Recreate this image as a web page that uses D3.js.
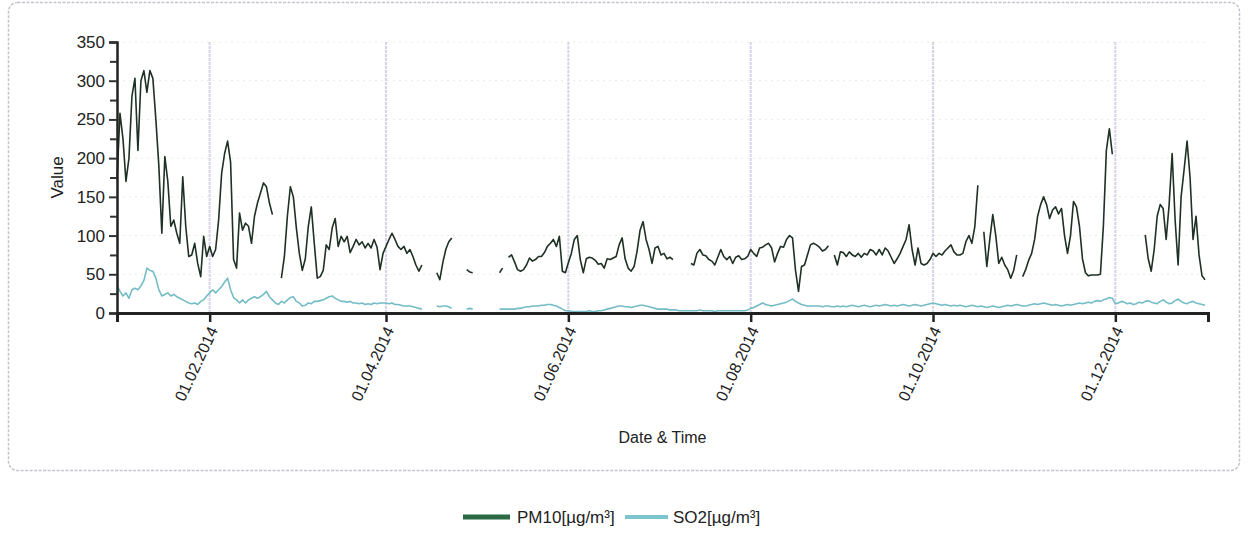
<!DOCTYPE html>
<html><head><meta charset="utf-8">
<script src="https://cdn.jsdelivr.net/npm/d3@7"></script>
<style>
body{margin:0;background:#fff;}
text{font-family:"Liberation Sans",Arial,sans-serif;fill:#222;}
</style>
</head><body>
<svg id="chart" width="1248" height="533"></svg>
<script>
// ---- data (daily values, 2014) ----
const startDate = "2014-01-01";
const endDate = "2015-01-01";
const pm10Jan = [172,258,225,170,200,280,303,210,300,313,285,313,303,250,190,103,202,170,112,120,103,90,176,112,73,75,90,64,47,99,73];
const pm10Feb = [86,73,82,120,180,206,222,195,69,58,129,107,116,112,90,125,142,155,168,163,142,127,null,null,45,73,125,163];
const pm10Mar = [150,110,77,55,70,112,137,90,45,47,55,88,82,110,122,86,99,92,99,78,86,95,88,92,84,90,84,95,85,56,77];
const pm10Apr = [86,95,103,95,86,82,86,77,82,73,62,54,62,null,null,null,null,52,43,65,82,92,97,null,null,null,null,56,53,52];
const pm10May = [null,null,null,null,null,null,null,null,52,58,null,72,75,66,56,54,56,62,71,67,69,73,73,78,86,90,95,86,99,54,52];
const pm10Jun = [65,77,95,100,69,52,70,72,71,68,63,64,58,70,69,71,73,88,97,70,58,54,60,80,107,118,95,82,64,84];
const pm10Jul = [86,75,77,70,72,69,null,null,null,null,null,64,62,77,82,75,74,69,67,62,72,82,73,69,73,64,72,74,69,70,73];
const pm10Aug = [82,77,73,84,85,88,90,84,66,77,86,85,95,100,97,55,28,60,62,75,88,90,88,85,80,82,87,null,75,62,79];
const pm10Sep = [78,73,79,75,73,77,72,77,75,82,80,75,82,75,84,80,72,64,70,77,86,95,114,82,62,84,64,62,64,69];
const pm10Oct = [77,73,77,75,80,84,88,79,75,75,77,92,100,90,112,165,null,105,60,95,127,100,64,72,62,56,45,55,75,null,47];
const pm10Nov = [56,68,77,95,125,140,150,140,122,133,137,128,135,100,77,100,144,137,112,70,52,48,49,49,49,50,112,210,238,205];
const pm10Dec = [null,null,null,null,null,null,null,null,null,null,101,70,54,82,125,140,135,95,140,206,120,62,150,185,222,175,95,125,75,48,43];

const so2Jan = [36,28,22,26,19,30,32,30,35,42,58,55,54,45,30,22,24,26,22,24,21,19,17,15,13,12,13,11,15,17,22];
const so2Feb = [26,30,26,30,34,40,45,30,20,17,13,17,13,17,19,21,19,21,24,28,21,17,13,11,15,13,17,20];
const so2Mar = [21,15,13,9,10,13,12,15,15,16,17,19,21,22,19,17,15,15,14,15,13,13,12,13,11,12,11,13,12,13,13];
const so2Apr = [13,12,13,11,11,10,9,9,9,8,7,6,5,null,null,null,null,9,8,9,9,8,6,null,null,null,null,5,6,5];
const so2May = [null,null,null,null,null,null,null,null,5,5,5,5,5,5,6,6,7,8,8,9,9,9,10,10,11,11,10,9,7,5,3];
const so2Jun = [3,2,2,2,2,2,2,3,2,2,3,3,4,5,6,7,8,9,9,8,8,7,8,9,10,10,9,8,7,6];
const so2Jul = [5,5,5,5,4,4,4,3,3,3,3,3,3,3,4,3,3,3,3,2,3,3,3,3,3,3,3,3,3,3,4];
const so2Aug = [6,7,9,11,13,11,10,9,10,11,12,13,14,16,18,15,13,11,10,9,9,9,9,9,8,9,9,8,8,9,8];
const so2Sep = [9,8,9,10,9,8,9,10,9,8,9,10,9,10,11,10,9,10,9,10,11,10,9,10,11,10,9,10,11,12];
const so2Oct = [13,12,11,10,11,10,9,10,9,10,9,8,9,10,9,8,9,8,7,8,9,8,7,8,9,10,9,10,11,10,9];
const so2Nov = [9,10,11,12,11,12,13,12,11,10,11,10,9,10,11,10,11,12,13,12,13,14,13,15,16,15,17,18,20,19];
const so2Dec = [12,13,15,14,12,13,11,12,14,13,15,16,14,13,12,15,17,14,12,13,16,18,15,13,12,14,15,13,12,11,10];

const tickDates = ["2014-02-01","2014-04-01","2014-06-01","2014-08-01","2014-10-01","2014-12-01"];
const tickLabels = ["01.02.2014","01.04.2014","01.06.2014","01.08.2014","01.10.2014","01.12.2014"];
const yMajorTicks = [0,50,100,150,200,250,300,350];
const yMinorTicks = [25,75,125,175,225,275,325];
const seriesNames = ["PM10[µg/m³]","SO2[µg/m³]"];
const yTitle = "Value";
const xTitle = "Date & Time";

// ---- build ----
const pm10 = [].concat(pm10Jan,pm10Feb,pm10Mar,pm10Apr,pm10May,pm10Jun,pm10Jul,pm10Aug,pm10Sep,pm10Oct,pm10Nov,pm10Dec);
const so2 = [].concat(so2Jan,so2Feb,so2Mar,so2Apr,so2May,so2Jun,so2Jul,so2Aug,so2Sep,so2Oct,so2Nov,so2Dec);
const t0 = new Date(startDate + "T00:00:00Z");
const toSeries = arr => arr.map((v,i) => ({date: d3.utcDay.offset(t0, i), v}));
const pmData = toSeries(pm10), soData = toSeries(so2);

const svg = d3.select("#chart");
const L = 117, R = 1208, T = 42, B = 313;
const x = d3.scaleUtc().domain([t0, new Date(endDate + "T00:00:00Z")]).range([L, R]);
const y = d3.scaleLinear().domain([0, 350]).range([B, T]);

// frame
svg.append("rect").attr("x",8.5).attr("y",2.5).attr("width",1231).attr("height",468)
  .attr("rx",9).attr("fill","#fff").attr("stroke","#c6c3cf").attr("stroke-width",1.5)
  .attr("stroke-dasharray","3,1.5");

// horizontal faint grid
svg.append("g").selectAll("line").data(yMajorTicks.filter(d=>d>0)).join("line")
  .attr("x1",L).attr("x2",R).attr("y1",d=>y(d)).attr("y2",d=>y(d))
  .attr("stroke","#ecebe0").attr("stroke-width",1).attr("stroke-dasharray","2,4");

// vertical grid
const tickDateObjs = tickDates.map(d => new Date(d + "T00:00:00Z"));
svg.append("g").selectAll("line").data(tickDateObjs).join("line")
  .attr("x1",d=>x(d)).attr("x2",d=>x(d)).attr("y1",T).attr("y2",B)
  .attr("stroke","#d6d2ea").attr("stroke-width",2).attr("stroke-dasharray","3,1");

// lines
const line = d3.line().defined(d => d.v != null).x(d => x(d.date)).y(d => y(d.v));
svg.append("path").datum(soData).attr("d", line).attr("fill","none")
  .attr("stroke","#74bcc6").attr("stroke-width",1.6).attr("stroke-linejoin","round");
svg.append("path").datum(pmData).attr("d", line).attr("fill","none")
  .attr("stroke","#1f3024").attr("stroke-width",1.6).attr("stroke-linejoin","round");

// y axis
const yAxis = d3.axisLeft(y).tickValues(yMajorTicks).tickSize(8).tickPadding(4).tickFormat(d3.format("d"));
const gy = svg.append("g").attr("transform",`translate(${L},0)`).call(yAxis);
gy.select(".domain").attr("stroke","#222").attr("stroke-width",2.5);
gy.selectAll(".tick line").attr("stroke","#333").attr("stroke-width",2);
gy.selectAll(".tick text").attr("font-size",17).attr("font-family","Liberation Sans, Arial, sans-serif").attr("fill","#222");
const gym = svg.append("g").attr("transform",`translate(${L},0)`)
  .call(d3.axisLeft(y).tickValues(yMinorTicks).tickSize(7).tickFormat(""));
gym.select(".domain").remove();
gym.selectAll(".tick line").attr("stroke","#333").attr("stroke-width",2);

// x axis
const xAxis = d3.axisBottom(x).tickValues(tickDateObjs).tickSize(9).tickFormat((d,i)=>tickLabels[i]);
const gx = svg.append("g").attr("transform",`translate(0,${B})`).call(xAxis);
gx.select(".domain").attr("stroke","#222").attr("stroke-width",3);
gx.selectAll(".tick line").attr("stroke","#222").attr("stroke-width",2.5);
gx.selectAll(".tick text").attr("font-size",16).attr("font-family","Liberation Sans, Arial, sans-serif")
  .attr("fill","#222").attr("text-anchor","end")
  .attr("transform","translate(8,17) rotate(-65)").attr("x",0).attr("y",0).attr("dy","0");

// titles
svg.append("text").attr("transform",`translate(63,${(T+B)/2 + 0}) rotate(-90)`)
  .attr("text-anchor","middle").attr("font-size",17).text(yTitle);
svg.append("text").attr("x",(L+R)/2 + 0).attr("y",443).attr("text-anchor","middle")
  .attr("font-size",16).text(xTitle);

// legend
const legend = svg.append("g");
const legendItems = [
  {name: seriesNames[0], color: "#2b6a45", x0: 463, x1: 510, w: 5, tx: 517},
  {name: seriesNames[1], color: "#7cc5ce", x0: 625, x1: 668, w: 4, tx: 673}
];
legendItems.forEach(it => {
  legend.append("line").attr("x1",it.x0).attr("x2",it.x1).attr("y1",517).attr("y2",517)
    .attr("stroke",it.color).attr("stroke-width",it.w);
  legend.append("text").attr("x",it.tx).attr("y",523).attr("font-size",17).text(it.name);
});
</script>
</body></html>
